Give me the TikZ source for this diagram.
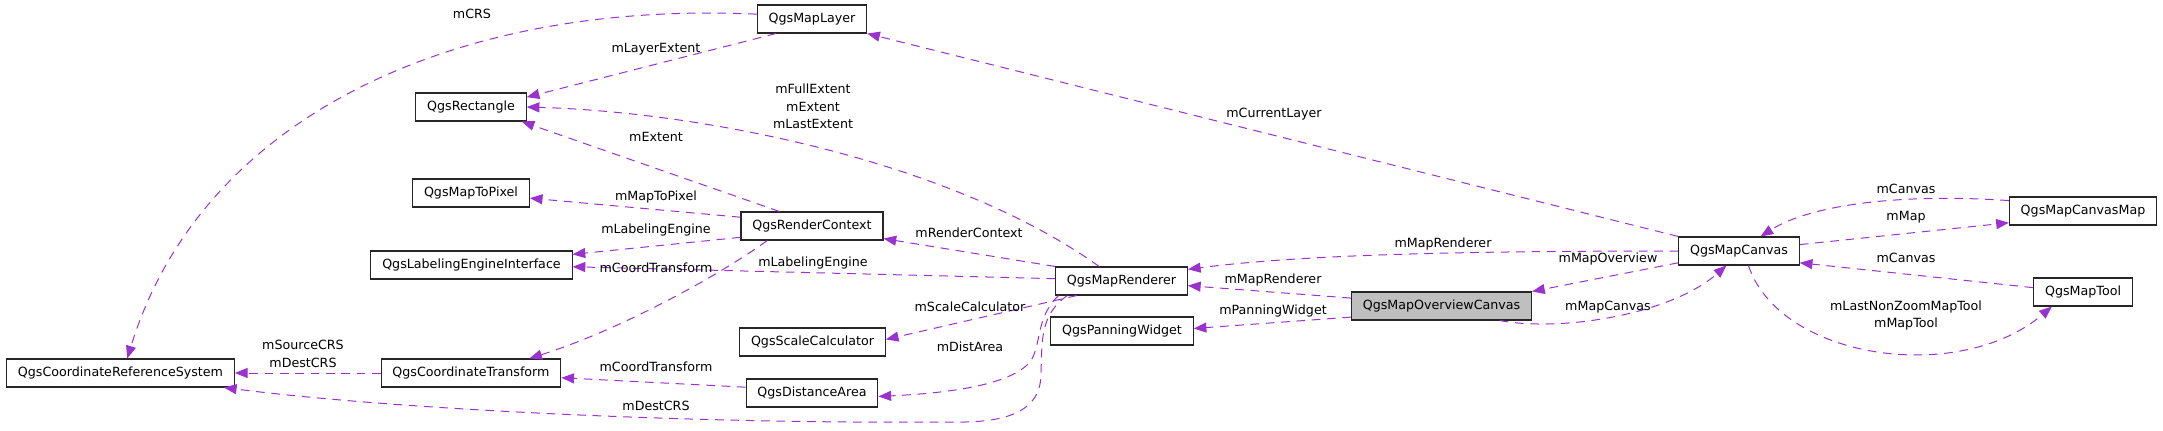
\documentclass[tikz,border=0pt]{standalone}
\usepackage{fontspec}
\setmainfont{DejaVu Sans}
\usetikzlibrary{arrows.meta}
\definecolor{usecol}{HTML}{9A32CD}

\begin{document}
\begin{tikzpicture}[x=0.75pt, y=-0.75pt,
	cls/.style={draw=black!85, line width=0.8pt, fill=white, font=\fontsize{9.5}{11}\selectfont, inner xsep=8.5pt, inner ysep=0pt, minimum height=21pt},
	cur/.style={cls, fill=black!25},
	lbl/.style={font=\fontsize{9.5}{13}\selectfont, inner sep=0pt, align=center},
	uses/.style={draw=usecol, line width=0.75pt, dash pattern=on 6.5pt off 5pt, -{Triangle[length=9.5pt, width=7.5pt]}}]
	\useasboundingbox (0,0) rectangle (2163,431);

	\node[cls] (crs) at (120.5,373) {QgsCoordinateReferenceSystem};
	\node[cls] (rect) at (471,107) {QgsRectangle};
	\node[cls] (m2p) at (471,193) {QgsMapToPixel};
	\node[cls] (lei) at (471.5,265) {QgsLabelingEngineInterface};
	\node[cls] (ctr) at (471,373) {QgsCoordinateTransform};
	\node[cls] (layer) at (812,19) {QgsMapLayer};
	\node[cls] (rctx) at (812,226) {QgsRenderContext};
	\node[cls] (scal) at (812.5,342) {QgsScaleCalculator};
	\node[cls] (dist) at (812,393) {QgsDistanceArea};
	\node[cls] (rend) at (1121.5,281) {QgsMapRenderer};
	\node[cls] (pan) at (1122,331) {QgsPanningWidget};
	\node[cur] (ovw) at (1441.5,306) {QgsMapOverviewCanvas};
	\node[cls] (canvas) at (1739,251) {QgsMapCanvas};
	\node[cls] (cmap) at (2083,211) {QgsMapCanvasMap};
	\node[cls] (tool) at (2083,292) {QgsMapTool};

	\draw[uses] (layer.175) .. controls (450,0) and (200,120) .. (crs.65);
	\draw[uses] (layer.202) -- (rect.10);
	\draw[uses] (rend.147) .. controls (950,160) and (700,112) .. (rect.east);
	\draw[uses] (rctx.156) -- (rect.344);
	\draw[uses] (rctx.173) -- (m2p.355);
	\draw[uses] (rctx.189) -- (lei.6);
	\draw[uses] (rctx.198) .. controls (720,275) and (620,330) .. (ctr.14);
	\draw[uses] (rend.north west) -- (rctx.350);
	\draw[uses] (rend.178) -- (lei.359);
	\draw[uses] (rend.198) -- (scal.2);
	\draw[uses] (rend.193) .. controls (1035,318) and (1042,345) .. (1030,362) .. controls (1010,385) and (950,393) .. (dist.357);
	\draw[uses] (rend.195) .. controls (1040,315) and (1042,340) .. (1041,375) .. controls (1040,415) and (1000,423) .. (950,422) .. controls (700,424) and (400,410) .. (crs.352.5);
	\draw[uses] (ctr.west) -- (crs.east);
	\draw[uses] (dist.175) -- (ctr.357);
	\draw[uses] (ovw.175) -- (rend.356);
	\draw[uses] (ovw.187) -- (pan.2);
	\draw[uses] (canvas.180) .. controls (1450,251) and (1300,255) .. (rend.10);
	\draw[uses] (canvas.191) -- (ovw.north east);
	\draw[uses] (ovw.346) .. controls (1560,332) and (1670,315) .. (canvas.229);
	\draw[uses] (canvas.north west) -- (layer.south east);
	\draw[uses] (canvas.6) -- (cmap.189);
	\draw[uses] (cmap.172) .. controls (1900,193) and (1810,205) .. (canvas.34);
	\draw[uses] (tool.175) -- (canvas.349);
	\draw[uses] (canvas.303) .. controls (1780,360) and (1960,385) .. (tool.205);

	\node[lbl] (lcrs) at (472,14) {mCRS};
	\node[lbl] (llayext) at (656,49) {mLayerExtent};
	\node[lbl] (lfullext) at (813,106.5) {mFullExtent\\mExtent\\mLastExtent};
	\node[lbl] (lext) at (656,137) {mExtent};
	\node[lbl] (lm2p) at (656,197) {mMapToPixel};
	\node[lbl] (llabeng) at (656,230) {mLabelingEngine};
	\node[lbl] (lcoordtr) at (656,268) {mCoordTransform};
	\node[lbl] (lrctx) at (969,233) {mRenderContext};
	\node[lbl] (llabeng2) at (813,263) {mLabelingEngine};
	\node[lbl] (lscal) at (970,307) {mScaleCalculator};
	\node[lbl] (ldist) at (970,347) {mDistArea};
	\node[lbl] (lsrccrs) at (303,354) {mSourceCRS\\mDestCRS};
	\node[lbl] (lcoordtr2) at (656,367) {mCoordTransform};
	\node[lbl] (ldestcrs) at (656,406) {mDestCRS};
	\node[lbl] (lrend) at (1273,280) {mMapRenderer};
	\node[lbl] (lpan) at (1273,311) {mPanningWidget};
	\node[lbl] (lrend2) at (1443,244) {mMapRenderer};
	\node[lbl] (lcurlayer) at (1274,114) {mCurrentLayer};
	\node[lbl] (lovw) at (1608,259) {mMapOverview};
	\node[lbl] (lcanvas) at (1608,307) {mMapCanvas};
	\node[lbl] (lcanvas2) at (1906,189) {mCanvas};
	\node[lbl] (lmap) at (1906,217) {mMap};
	\node[lbl] (lcanvas3) at (1906,258) {mCanvas};
	\node[lbl] (ltool) at (1906,315.5) {mLastNonZoomMapTool\\mMapTool};
\end{tikzpicture}
\end{document}
